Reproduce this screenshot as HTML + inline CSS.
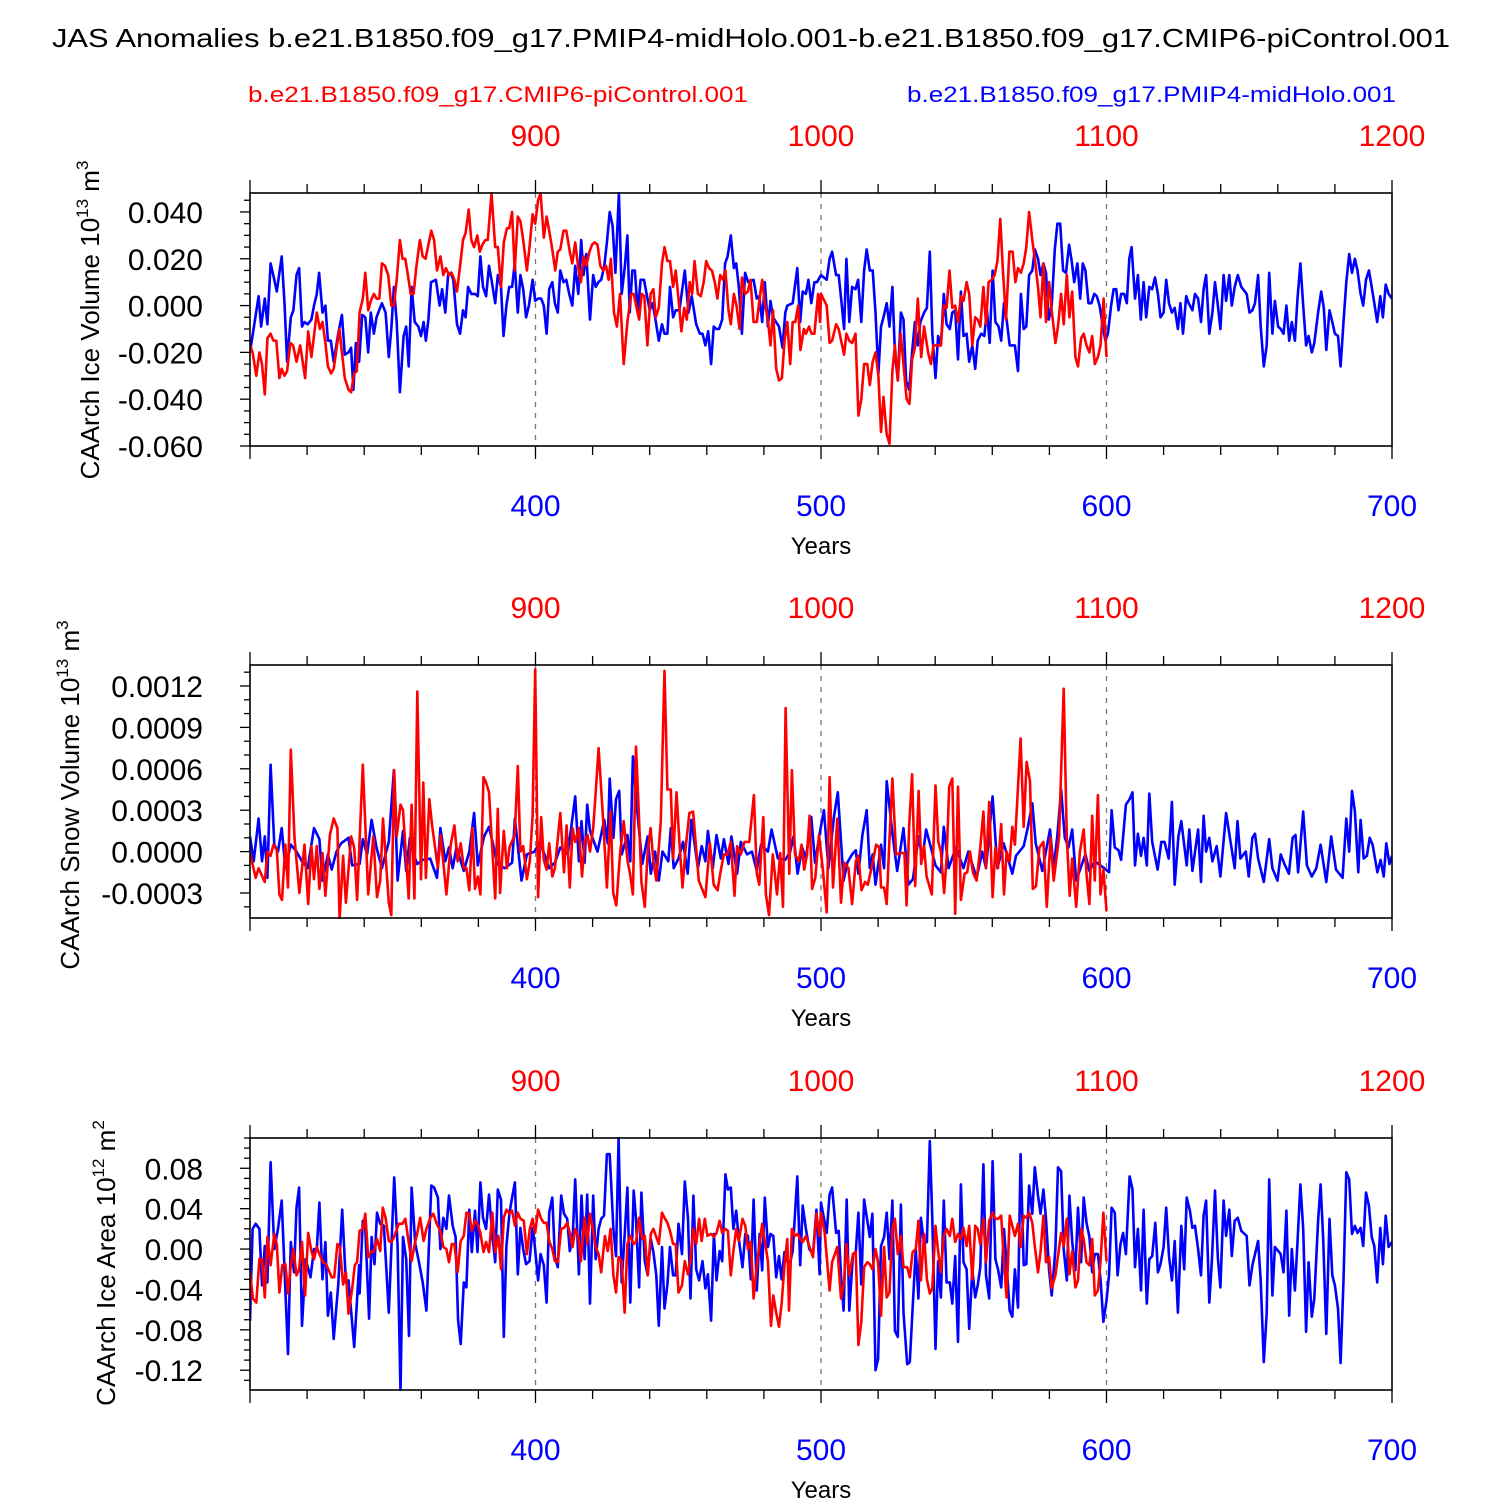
<!DOCTYPE html>
<html><head><meta charset="utf-8"><style>
body{margin:0;background:#fff}
svg text{font-family:"Liberation Sans",Arial,sans-serif}
</style></head><body>
<svg id="chart" width="1500" height="1500" viewBox="0 0 1500 1500" xmlns="http://www.w3.org/2000/svg">
<rect width="1500" height="1500" fill="#fff"/>
<text x="751" y="47" font-size="26" text-anchor="middle" textLength="1398" lengthAdjust="spacingAndGlyphs">JAS Anomalies b.e21.B1850.f09_g17.PMIP4-midHolo.001-b.e21.B1850.f09_g17.CMIP6-piControl.001</text>
<text x="248" y="102" font-size="22" fill="#ff0000" textLength="500" lengthAdjust="spacingAndGlyphs">b.e21.B1850.f09_g17.CMIP6-piControl.001</text>
<text x="907" y="102" font-size="22" fill="#0000ff" textLength="489" lengthAdjust="spacingAndGlyphs">b.e21.B1850.f09_g17.PMIP4-midHolo.001</text>
<g id="plots"></g>
</svg>
<script>
// ---- Panel 1: CAArch Ice Volume (units 1e-3 x 10^13 m^3) ----
const p1BlueYears=[300,303,303.9,305.2,306.1,307.2,308.5,309.4,310.3,311.1,312.1,313,314.3,315.2,316.3,317.2,318.2,319.1,320.2,321.5,322.4,323.4,324.2,325.4,326.4,327.3,328.3,329.3,330.9,332.2,333.2,334.5,335.4,336.2,337.1,338.2,339.3,340.4,341.4,342.3,343.4,344.3,346.2,347.5,348.6,349.5,350.4,351.4,352.5,353.8,354.7,355.6,356.6,357.7,359,359.9,360.8,361.6,362.5,363.4,365.1,366.4,367.3,368.4,369.4,370.3,371.2,372.5,373.6,374.6,375.5,376.4,377.5,378.8,379.8,380.7,381.6,382.7,383.7,384.6,385.9,386.8,387.9,388.8,389.8,390.8,391.8,392.7,393.8,394.7,395.7,396.7,397.7,399,399.9,400.9,402,402.9,403.9,404.8,405.9,406.8,407.8,408.7,409.8,410.8,411.8,412.9,413.9,415,416,416.8,417.8,419.1,420.2,421.1,422,423,424.1,425,426,427,428,429.2,430.2,431.3,432.2,433,433.9,434.8,435.8,436.8,438,438.9,440,441,441.9,443.2,444.3,445.2,446.2,447.1,448.2,449.1,450.4,452.3,453.6,454.7,456.3,457.6,458.5,459.5,460.5,461.5,462.4,463.4,464.3,465.4,466.4,467.3,468.4,469.5,470.3,471.2,472.3,473.4,474.5,476.4,477.5,478.4,479.4,480.3,481.4,482.3,483.2,485.3,486.5,487.5,488.2,490.1,491.7,492.7,493.6,494.7,495.6,496.6,497.7,498.6,500,502,503,503.9,505.3,506.2,507.2,508.1,508.9,509.9,510.9,512.1,513,514.1,515.1,516,517.1,518.1,519.1,520.1,521,521.9,523,524,525,525.9,526.9,528,528.9,529.8,530.9,531.9,532.9,533.9,534.8,536.1,537.1,538.1,539,540.1,541,542,543,544,545.1,546,547,548,549,549.9,551,551.9,553,554,554.9,556.1,557.2,558.1,559.1,560.1,561.1,562.2,563.1,564.1,565,566.1,567,567.9,569,570,571,571.9,572.9,574,574.9,576,576.9,577.9,578.8,579.8,580.8,581.9,582.8,583.8,584.8,585.8,586.9,587.8,588.7,589.8,590.8,591.7,592.6,593.7,594.7,595.7,596.6,597.6,598.7,599.6,600.5,601.6,602.5,603.4,604.2,605.1,606.2,607.1,608,608.8,610,611,612,613,613.9,615,616,617,618,618.9,620,620.9,621.9,622.9,623.9,625,625.9,626.8,627.9,628.8,630.1,631,632.1,633.1,634,634.9,636,637.1,638,638.9,639.9,641,641.9,643,643.9,644.9,646,647.2,649.1,650.1,651.1,652,653.1,654,655.1,656.1,657,658.1,659,660.1,661,662,663,664,664.9,666,666.9,667.9,668.9,669.9,670.8,671.9,672.8,674.1,675.2,676.1,677,678.1,679.1,680,681.1,682,683,684,685,686,687,687.9,689,689.9,690.9,691.9,692.9,693.8,694.8,695.9,696.8,697.8,698.8,700];
const p1BlueVals=[-20,4,-9,3,-8,18,11,6,14,21,1,-24,-5,-2,13,16,-9,-7,-8,-6,0,5,14,-3,0,-15,-15,-24,-12,-4,-21,-20,-18,-36,-16,-24,-4,-5,-20,-3,-12,-5,1,-3,-22,-10,8,-7,-37,-13,-9,-26,8,-7,-9,-13,-7,-15,-6,10,11,0,7,-3,13,14,11,-8,-12,-2,-5,8,5,5,4,21,8,4,17,11,1,13,8,-13,0,8,8,18,-3,13,7,-5,0,11,2,3,3,0,-12,7,10,1,-3,15,10,11,5,0,17,5,28,13,22,-6,13,8,10,11,17,27,40,34,14,48,5,17,30,-3,15,15,-3,11,11,5,-2,1,-5,-15,-8,-12,-12,8,-5,-2,-2,15,-3,4,-8,-12,-12,-17,-11,-25,-9,-10,-10,-6,18,21,30,16,18,8,-12,14,10,11,3,4,-7,10,-9,2,-5,-9,-18,-3,0,1,16,-7,6,5,11,1,10,10,13,11,20,23,13,13,1,-10,20,-7,8,7,11,-7,15,24,15,15,-3,-29,-9,-5,1,-9,8,-20,-32,-3,-6,-32,-36,-20,-7,-17,-7,-3,-1,23,-12,-31,-13,-17,5,-8,-10,-3,-2,-23,6,-13,-12,-24,-17,-27,-15,-12,-13,-2,-16,15,-7,-9,-15,1,-6,-17,-17,-17,-28,5,-10,-9,13,15,24,20,13,18,14,-6,0,24,35,35,15,14,26,19,10,18,3,18,15,1,1,5,4,0,-9,-15,-12,0,7,7,-2,5,5,1,20,25,3,13,-6,10,-5,8,7,12,5,-5,-3,11,1,-3,-1,-10,1,-12,4,1,-2,5,3,-7,7,13,-12,-3,10,1,-10,13,2,13,0,8,13,8,5,-3,-2,1,13,-9,-26,-17,14,-12,2,-9,-10,-12,0,-15,-7,-15,3,18,0,-17,-13,-20,-16,-3,6,-1,-19,-2,-7,-12,-13,-26,-7,10,22,14,20,15,5,0,11,15,8,1,-7,4,-5,9,5,3];
const p1RedYears=[800,800.9,802.2,803.3,804.2,805.2,806.1,807.2,808.2,809.2,810.3,811.1,812.1,813,814.1,815.1,816.3,817.6,819.3,820.4,821.5,823.4,824.5,825.4,826.4,827.3,828.4,829.3,831.3,832.2,833.2,834.5,835.4,836.5,837.4,838.4,839.5,840.4,841.4,842.3,843.4,844.3,845.3,846.2,847.3,848.4,849.5,850.4,851.4,852.5,853.4,854.4,855.3,856.3,857.3,858.2,859.5,860.5,861.5,862.5,863.5,864.5,865.5,866.7,867.7,868.6,869.7,870.6,871.6,872.5,873.6,874.6,875.5,876.6,877.5,878.5,879.6,880.5,881.4,882.4,883.3,884.6,885.9,886.8,887.9,888.9,890,890.8,891.8,892.7,893.8,894.7,895.7,897,897.9,899,899.9,900.9,901.8,902.9,903.9,904.8,905.9,906.9,907.8,908.7,909.8,910.8,912,912.9,913.9,915,915.9,916.8,917.8,918.9,919.8,920.7,921.7,922.7,923.7,924.7,925.6,926.4,927.5,928.5,929.6,930.9,932.2,933.5,934.4,935.4,936.3,937.2,938.1,939.2,940.3,941.3,942.1,943.2,944.3,945.2,946.2,947.1,948.2,949.1,950.1,951.1,952.1,953,954,954.9,955.7,956.9,957.9,958.9,959.8,960.8,961.8,962.8,963.7,964.7,965.6,966.5,967.6,968.4,969.5,970.4,971.5,972.3,973.4,974.4,975.3,976.4,977.5,978.5,979.4,980.3,981.4,982.3,983.2,984.3,985.3,986.3,987.2,988.2,989.2,990.1,991,992,992.8,994,994.7,995.8,996.7,997.7,999,999.7,1000,1002,1003,1003.9,1005.3,1006.2,1007.2,1008.1,1008.9,1009.9,1010.9,1012.1,1013.1,1014.1,1015.1,1016.2,1017.1,1018.1,1019.1,1020.1,1021,1021.9,1023,1024,1025,1025.9,1026.9,1027.9,1028.9,1030,1031,1031.9,1032.9,1033.9,1035.1,1036.1,1037.5,1038.5,1039.4,1040.5,1042,1043,1044,1045,1046,1047,1048,1049,1049.9,1051,1051.9,1053,1054,1054.9,1055.8,1056.9,1057.8,1058.7,1059.8,1060.8,1061.8,1062.8,1063.7,1064.8,1066,1067.1,1068.1,1069,1070,1071,1071.9,1072.9,1074,1074.9,1076,1076.9,1077.9,1078.8,1079.9,1080.8,1082.1,1083,1084.1,1085,1086.1,1087,1088,1089.1,1090,1091.1,1092,1093,1094,1095,1095.9,1097,1097.9,1099,1100];
const p1RedVals=[-17,-20,-30,-20,-25,-38,-14,-12,-15,-15,-31,-27,-30,-28,-16,-17,-24,-17,-31,-11,-22,-3,-10,-7,-16,-26,-29,-27,-10,-20,-31,-36,-37,-29,-28,-3,3,14,-2,2,5,3,3,18,17,13,0,0,11,28,20,20,13,5,5,16,28,21,20,26,32,28,15,21,13,16,13,14,11,6,17,28,31,41,28,25,30,23,26,28,28,48,25,25,8,27,33,33,40,15,38,36,28,15,25,39,35,45,48,29,38,32,24,15,23,24,32,32,23,18,27,16,10,21,17,23,26,27,26,17,15,17,11,20,-3,-9,5,-25,-7,5,5,-1,-6,5,4,-17,5,7,-5,-1,18,25,19,19,8,15,3,-11,-1,-6,10,5,19,5,4,10,19,16,15,10,3,13,11,15,-2,-8,5,0,-10,12,5,6,11,-7,-7,3,11,1,-6,-17,-2,-27,-32,-31,-15,-7,-25,-7,-7,0,-19,-10,-12,-9,-12,-12,5,-7,5,0,-16,-15,-8,-10,-16,-21,-12,-15,-16,-12,-47,-40,-25,-25,-34,-24,-20,-30,-54,-39,-55,-59,-28,-17,-32,-12,-25,-40,-42,-23,-18,3,-22,-9,-20,-25,-17,-17,-17,0,-1,15,-1,0,-7,4,2,10,5,-17,-5,-6,-9,8,-8,10,11,13,19,37,15,-6,23,23,10,16,14,18,25,40,28,20,8,-5,18,-7,10,-2,-16,-9,5,-8,13,-5,6,-22,-26,-14,-12,-17,-20,-13,-25,-22,-17,3,-22];

// ---- Panel 2: CAArch Snow Volume (units 1e-5 x 10^13 m^3) ----
const p2BlueYears=[300,301.3,303,304.2,305.2,306.1,307.2,308.5,309.8,311.1,312.4,314.3,316.3,318.2,320.2,322.4,324.3,325.4,327.3,328.6,330.3,331.9,334.5,335.8,338.4,339.5,341,342.6,344.3,346.2,348.6,350.4,351.7,353.6,354.7,356,357.3,358.6,360.5,363.1,365.5,366.7,368.4,369.7,371,372.3,374.9,376.8,378.5,379.8,382,383.7,385.3,386.6,389.2,391.8,392.8,395.1,397,399.6,401.6,404.8,406.8,408.7,411.3,413.9,415.2,416.1,417.2,418.1,419.1,421.7,424.1,425.3,426,427.3,428.2,429.3,430.2,432.2,433.2,434.1,435.4,437.4,439.3,440.4,441.9,443.2,444.5,446.5,447.4,448.4,450.1,451.7,453.3,454.6,456.9,458.2,459.5,460.4,462.1,463.4,464.9,466,467.6,468.6,470.6,471.9,474.1,475.8,477.5,479,481.4,482.7,484.9,487.5,489.2,490.4,491.8,493.4,494.7,496.6,497.9,499.8,501,502.6,504.6,505.9,507.9,509.2,510.9,512.2,513.1,514.5,516,517.1,518.1,519.1,521,522.1,523,525,526.7,528.9,530.6,532.2,534.2,535.5,536.8,538.5,540.1,542,543,544.7,547.3,549.9,551.6,554.5,556.5,557.8,560.1,561.8,564,567,568.3,571,572.3,574,575.2,577.5,580.2,581.5,582.8,584.1,585.4,586.7,588,589.4,592.6,594,595.9,599.2,600.9,601.8,602.9,604.2,605.1,606.8,608.1,609.1,610,611,612.1,613,614.1,615,616,617.9,619.2,620.3,621.8,622.9,623.9,625.2,626.2,628.1,629,630.1,632.1,633.1,634,634.9,636,637.1,638.6,639.9,641.9,643.6,644.9,645.9,646.9,648.8,649.8,651.1,652,653.1,655.1,657,658.1,659.9,661,662.3,663.9,665.2,666.2,667.1,668.9,670.2,671.9,673.5,675,677,678.7,680.4,682.7,684,685,686,687,688.2,689,690.1,691.2,692.2,693.2,694.9,696,697.1,698,699.1,700];
const p2BlueVals=[11,-7,24,-7,11,-19,63,5,0,17,-12,5,0,-7,-12,17,9,-21,-2,-13,0,6,10,-10,-9,9,-2,23,3,-12,7,59,-21,15,-14,10,-2,-9,-6,-5,-19,17,-7,3,-12,3,-14,0,28,-10,11,18,4,-9,-12,-8,24,-21,-2,0,7,-12,-8,3,-2,40,-7,22,-8,34,15,0,23,6,53,10,38,44,-2,12,-7,69,34,-9,11,-16,0,-21,0,-7,17,-12,-5,7,-16,23,-12,4,-7,15,-12,12,-5,9,-9,11,-16,7,-2,0,-14,5,0,16,-5,-6,0,11,-16,3,-5,25,-8,16,30,-12,26,43,-21,-8,-2,1,-16,12,30,-12,-2,-24,5,-12,51,13,-14,17,-24,-20,11,-5,16,3,-10,-15,18,-12,3,-12,0,-19,0,-12,40,-12,6,-16,-3,4,16,35,6,-14,16,-12,12,45,10,3,16,-21,-2,-14,-7,-12,-15,30,3,1,-6,34,38,43,-10,13,-3,10,-10,42,7,-13,7,7,-5,36,-24,11,22,-10,16,-14,16,-22,26,0,10,-7,4,-18,28,5,-12,22,-5,0,-18,10,13,-5,-22,9,-12,-21,-2,-9,-16,10,12,-15,29,-10,-18,-12,5,-22,11,-13,-19,24,0,44,29,-15,23,-5,-3,10,5,-15,-6,-18,6,-9,-3];
const p2RedYears=[800,802,803,805.2,806.1,807.2,808.2,809.4,810.3,811.2,812.4,813.3,814.3,815.6,817.3,819.1,820.4,821.5,822.4,823.4,824.3,825.4,826.4,828,829.3,830.6,831.4,832.6,833.6,835.4,836.5,837.5,839.5,841.4,843.2,844.5,845.6,846.6,848.6,849.5,850.5,851.4,852.7,853.6,855.6,856.6,857.6,858.6,859.9,860.7,861.6,862.8,863.8,865.8,866.8,868.8,870.3,871.6,872.7,873.8,874.9,875.8,876.8,877.9,878.8,879.8,880.7,881.8,882.7,883.7,885.9,886.8,887.6,888.9,890,890.9,892.7,893.8,894.7,895.7,897,898,899,899.9,900.9,902,902.9,903.9,904.8,905.9,906.8,908.7,910,910.9,912,913,913.9,915.2,916.3,917.2,918.2,919.1,920.2,921.1,922.1,923.7,925,926.3,927.2,928.3,929.6,930.9,932.2,933.1,934.1,935.2,936.1,937.1,938.3,939.3,940.3,941.3,942.3,943.9,945.2,946.2,947.4,948.2,949.4,950.4,951.5,952.6,953.9,955.2,957.2,959.5,961.1,962.4,963.8,964.7,966,967.3,968.4,969.7,970.6,971.9,973.2,974.9,976.5,977.5,978.4,979.8,980.7,981.8,983.1,984.6,985.7,986.7,987.6,988.9,989.8,990.9,992.2,993.2,994.1,995.1,996,996.9,998,999.3,1000.7,1002,1003,1004.2,1005.7,1007,1008.1,1009.6,1010.9,1012.2,1013.1,1014.2,1015.4,1016.4,1017.7,1019.3,1020.4,1021,1022.1,1023,1023.9,1025,1026.3,1028.3,1029.2,1030,1030.9,1031.9,1033,1034.2,1035.1,1036.1,1037,1038.8,1040.1,1041.1,1042,1043.1,1044,1044.9,1046,1047,1048,1049,1050.3,1051.2,1052.2,1053.2,1054.5,1055.8,1056.9,1057.8,1058.9,1060.1,1061.1,1062,1063.1,1064.1,1065,1066.1,1067,1067.9,1069.9,1071,1072,1073.2,1074.2,1075.3,1076.5,1077.9,1079.1,1080.4,1081.5,1083.4,1085,1086.1,1087.1,1088,1089.4,1090.7,1092,1093,1094,1095,1095.9,1097,1097.9,1098.9,1100];
const p2RedVals=[-1,-19,-12,-22,0,-3,5,1,-31,-35,5,-26,74,10,-30,5,-38,4,-20,4,-27,-1,-32,12,24,17,-49,-3,-37,11,3,-35,63,-31,11,-33,-21,24,-37,-46,59,11,34,30,-34,34,-34,116,-20,50,-19,38,19,-12,12,-31,5,19,-7,6,-12,-12,-28,17,-27,-18,-31,54,50,43,-34,31,-30,15,-12,3,12,62,0,4,-20,-7,26,132,-33,25,-6,-13,6,-18,-12,28,-15,19,-26,17,7,17,-18,7,12,0,17,43,75,22,-26,29,-30,-39,-2,22,-6,-16,-31,76,32,-22,-40,0,17,-7,-21,22,131,45,45,-5,43,7,-26,3,28,29,-21,-33,6,-24,-28,-16,-2,-2,7,-32,4,-2,7,7,41,-16,-24,25,-31,-46,-2,-31,-1,-40,104,-16,59,-2,-7,5,-13,-2,26,-27,-19,12,-14,-44,54,-26,24,-37,-8,-12,-38,-7,-3,-28,-22,-24,-12,5,3,-26,-26,-38,5,53,-2,-1,-1,-39,19,56,-25,44,-9,4,-18,-31,48,7,0,-30,-5,47,53,-45,47,-35,-16,-15,0,-15,-21,3,29,-12,36,-33,3,-12,20,-31,0,-7,18,5,82,18,65,51,-27,-25,3,7,-40,10,-21,11,118,10,-32,-5,-40,0,16,-16,-38,26,-21,41,-31,-13,-43];

// ---- Panel 3: CAArch Ice Area (units 1e-2 x 10^12 m^2) ----
const p3BlueYears=[300,300.9,302,303.3,304.2,305.2,306.1,307.2,308.5,309.8,311.1,313.3,314.3,315.4,316.3,317.2,318.2,319.5,321.2,322.4,323.4,324.3,325.4,326.4,327.3,328.3,329.3,330.9,332.3,333.6,334.5,336.5,338.2,338.4,339.5,340.4,341.7,342.6,343.6,344.5,345.6,346.9,348.6,350.5,351.7,352.7,353.6,354.7,355.7,356.6,357.9,359.2,360.5,361.8,363.5,364.5,365.8,366.7,367.7,368.8,369.7,371,372,372.9,373.8,374.9,375.8,376.8,377.7,378.8,379.7,380.7,381.6,382.7,383.7,384.9,385.9,386.8,387.9,388.9,389.8,390.9,391.8,392.8,393.8,394.7,395.7,396.7,397.9,399,399.6,400.9,401.8,402.9,403.9,404.8,405.9,406.8,407.8,409,410,411.1,412,413,413.9,415.2,416.1,417.2,418.1,419.1,420.2,421.1,422.1,423,424,425,426,427.3,428.2,429.1,430.2,431.2,432.2,433.2,434.4,435.2,436.3,437.1,438.3,439.3,440.4,441.3,442.3,443.2,444.3,445.2,446.2,447.1,448.2,449.1,450.1,451.3,452.3,453.4,454.3,455.3,456.3,457.3,458.5,459.5,460.4,461.5,462.5,463.4,464.5,465.4,466.5,467.4,468.4,469.3,470.3,471.2,472.5,473.5,474.4,475.4,476.4,477.5,478.5,479.4,480.3,481.4,482.3,483.3,484.3,485.3,486.2,487.2,488.2,489.2,490.1,491.7,492.7,493.6,494.7,495.9,497.2,498.4,499.5,500,502,503,503.9,505.3,506.2,507,507.9,509,509.9,511.2,512.2,513.1,514.1,515.1,517.1,518,519.1,520,521,522.1,523,524,525,525.9,526.9,528,528.9,530.2,531.1,532.1,533.2,534.1,535,536.1,537.1,538.1,539,540.1,541,542,543,544,545.1,546,547,548,549,549.9,551,551.9,553,554,554.9,555.8,556.9,557.8,558.9,560.1,561.1,562,563.1,564.1,565,566.1,567,567.9,569,569.9,571,571.9,572.9,574,574.9,576,576.9,577.9,578.8,579.9,580.8,582.1,583,584.1,585,586.1,587,588,589.1,590,591.1,592,593,594,595,595.9,597,597.9,598.9,600,600.9,601.8,602.9,603.9,604.9,605.8,606.8,608.1,609.1,610,611,612.1,613,614.1,615,616,617.1,618,618.9,620,620.9,621.9,622.9,623.9,625,626.2,627.2,628.1,629.2,630.1,631,632.1,633.1,634,634.9,636,636.9,638,639,639.9,641,641.9,643,643.9,644.9,646,647.2,649.1,650.1,651.1,653.1,654,655.1,656.1,657,658.1,659,661,662,663,664,664.9,666,666.9,667.9,668.9,669.9,670.8,671.9,672.8,674.1,675,675.9,677,678.1,679.1,680,681.1,682,683,684,685,686,687,687.9,689,689.9,690.9,691.9,692.9,693.8,694.8,695.9,696.8,697.8,698.8,700];
const p3BlueVals=[-7.1,2,2.5,2,-3.6,0.3,-3.3,8.6,0,2,4.8,-10.4,0.7,-2.3,4.1,6.1,-7.6,-1,-2.8,0,0,4.6,-3,0.7,-6.6,-4.3,-8.9,-3.6,3.9,-3.3,-3.1,-9.7,-1.6,-4.4,2.8,2,-6.9,1.2,-1.5,3.6,2.5,2.3,-6.3,7.1,0.3,-14.1,1.2,-1,-8.6,6.1,0.5,-1.3,-3.3,-6.1,6.3,6.1,5.1,0,3.1,2,5.3,2.3,1.2,-7.1,-9.4,-3.3,-3.8,3.9,-0.3,3.8,-0.3,6.6,3.1,2,5.4,1.3,-1.3,5.9,4.9,-8.7,0.3,3.6,5.1,6.6,-2.5,2.1,0,-1.5,-1.2,2.1,0.7,-3.1,-0.5,-1.6,-5.3,3.6,5.1,-0.8,-1.8,5.3,3.5,3,-0.2,1,6.9,-2.5,5.3,-1,5.4,-5.4,5.3,-1,2,3,3.3,9.4,9.4,2,-0.7,11,-3.3,1.3,6.1,-5.3,5.8,3,-3.8,5.6,-1.2,-2.6,1,-0.3,-2.6,-7.6,0.2,-5.9,-3.5,0.2,-2.6,-2.6,2.5,-0.5,6.7,3,-4.9,5.3,-2,-3.1,-1.2,-3.9,-2.5,-7.1,1.5,-3.1,-0.2,-1.2,7.4,5.9,6.1,2,3.8,1,-1.8,1.5,1.3,-3,4.9,-4.1,1.5,-2.1,5.1,0.2,1.5,1.3,-2.8,-0.7,-3,-0.3,-1.2,-1.3,-0.2,7.2,-1.6,4.3,2,0,-0.5,3.9,-2.5,4.6,1.6,5.4,6.1,1.6,1.8,-2.6,-6.1,4.9,-6.1,-0.5,-0.3,3.6,-3.5,4.9,1.2,3.5,-12,-10.9,0.3,1.2,3.6,-1,4.8,-8.1,-8.7,4.4,-6.3,-11.4,-11.2,-5.9,0,-4.9,3.1,0.5,0.7,10.7,3,-9.9,-1.2,-4.8,4.8,-3.3,-3.3,-5.4,-0.7,-9.2,6.4,-1.3,-2,-7.9,-2,-4.8,-3.6,-1.8,8.4,-2.6,-4.9,8.7,-1,-2,-3.8,2,-1.5,-6.1,-6.7,-2,-5.8,9.4,-1.6,-1.5,6.3,3.5,8.1,5.3,3.5,5.9,3,-2.1,-4.6,0,8.1,7.7,0,-3.1,5.3,0.7,-2.1,4.1,-1.3,5.1,2.6,1.2,-2.3,-0.5,-0.5,-3,-7.2,-5.1,-2.5,4.1,3.6,-2.6,0.5,1.6,-0.5,7.2,5.9,-1.8,2,-4.1,3.9,-5.4,-1,-0.7,2.6,-2.3,-1.5,0.2,4.1,-0.7,-3.1,0.8,-6.3,2.3,-2,5.1,3.8,2.1,2.3,0,-2.6,3.3,4.8,-5.3,-1.3,5.8,-0.8,-3.8,4.8,1.3,3.9,-0.7,2.8,3.1,1.8,1.3,-3.6,-1.6,0.8,-3.1,-11.2,-6.3,6.9,-4.6,0.2,-0.5,-2.3,3.8,-6.6,0,-4.1,0.7,6.4,2,-8.2,-1.3,-6.7,-4.9,2.8,6.4,1,-8.4,3,-2.6,-3.6,-5.9,-11.3,-3.1,7.6,6.9,1.5,2.3,1.6,2.1,0.3,5.6,4.3,1.2,0.3,-3.3,2.1,-1.5,3.3,0.2,0.7];
const p3RedYears=[800,801,802.2,803.3,804.2,805.2,806.1,807.2,808.5,809.4,810.3,811.3,812.4,813.3,814.3,815.2,816.3,817.2,818.2,819.3,820.4,821.5,822.4,823.4,824.3,825.6,826.7,828.6,829.5,830.6,831.5,832.6,833.6,834.5,835.8,836.7,837.5,838.4,839.5,840.4,841.4,842.3,843.4,844.5,845.6,846.5,847.5,848.6,849.5,850.5,852.1,853.4,854.4,855.3,856.6,857.7,858.6,859.6,860.8,861.8,863.2,864.2,865.4,866.7,867.7,868.8,869.7,870.7,871.6,872.7,873.8,874.9,875.8,876.8,877.7,878.8,879.7,880.7,881.8,882.7,883.7,884.9,885.9,887,887.9,888.9,889.8,890.9,891.8,892.8,893.8,894.7,895.9,897,898,899,899.9,900.9,902,902.9,903.9,904.8,905.9,906.8,907.8,909,910,911.1,912,913,913.9,915,915.9,917.2,918.1,919.1,920.2,921.1,922.1,923,924.3,925.3,926.3,927.3,928.2,929.1,930.2,931.2,932.2,933.2,934.4,935.2,936.3,937.4,938.3,939.3,940.4,941.3,942.3,943.2,944.3,945.2,946.2,947.1,948.2,949.1,950.1,951.3,952.3,953.4,954.3,955.3,956.3,957.3,958.2,959.3,960.2,961.5,962.5,963.4,964.5,965.4,966.5,967.4,968.4,969.3,970.3,971.2,972.5,973.5,974.4,975.4,976.4,977.5,978.5,979.4,980.3,981.4,982.5,983.3,984.3,985.3,986.2,987.2,988.2,988.8,989.8,990.9,991.8,992.7,993.6,994.7,995.9,997.2,998.4,999.5,1000,1001.3,1003,1003.9,1005.7,1007,1008.1,1008.9,1009.9,1011.2,1012.2,1013.1,1014.1,1015.1,1016.2,1017.1,1018,1019.1,1020,1021,1022.1,1023,1024,1025,1025.9,1026.9,1028,1028.9,1030.2,1031.1,1032.1,1033.2,1034.1,1035,1036.1,1037.1,1038.1,1039,1040.1,1041,1042,1043,1044,1045.1,1046,1047,1048,1049,1049.9,1051,1051.9,1053,1054,1054.9,1055.8,1056.9,1057.8,1058.9,1060.1,1061.1,1062,1063.1,1064.1,1065,1066.1,1067,1067.9,1069,1069.9,1071,1071.9,1072.9,1074,1074.9,1076,1076.9,1077.9,1078.8,1079.9,1080.8,1082.1,1083,1084.1,1085,1086.1,1087,1088,1089.1,1090,1091.1,1092,1093,1094,1095,1095.9,1097,1097.9,1098.9,1100];
const p3RedVals=[-2.3,-4.9,-5.3,-1,-1,-4.8,1.2,-1.6,1.5,0.5,-4.3,-1.6,-1.5,-4.4,-1.6,0,-2.6,-2,0.7,-4.6,1.6,-0.2,-1,0.2,-0.5,-1.3,-1.5,-2.8,-2.8,0.5,0.2,-3.5,-2.3,-6.4,-3.9,-1.6,-1.3,1.8,2,3.5,-0.8,-0.3,-0.2,1,-0.2,4.1,3.1,0.8,0.7,1.2,2.5,2.5,3,1.2,-1.2,0.5,1.6,3.1,0.8,2,3.1,3.5,2.5,1.8,0.2,0,-1.3,0.5,0.5,-2.3,0.8,1.3,3.6,3.5,1.8,2.8,2.5,1.6,-0.3,0.7,-0.3,3.6,-0.3,1.3,-2,3.1,3.9,3.5,3.8,2.3,3.6,3,2.8,-0.5,2,3,1.6,3.9,3,2.6,2.6,0.8,0,-1.2,-1.3,2,2.1,2.6,1.6,0.2,2,1.2,-1.2,3.1,0.5,3.5,1.8,0.2,-0.5,-2.3,1.3,-0.2,2,-2.6,-4.3,-0.8,-1.2,-6.3,0.5,1.3,0.5,0.7,3.1,1,1.3,-2.6,1.5,2,1.2,0.5,3.6,3.1,2.6,1.8,0.5,0.5,-4.3,-3.6,-1.2,-2.5,-1,2,0.5,3,0.8,3,1.3,1.5,1.2,1.6,2.8,1.6,2,1.8,-2.6,-0.2,2,0.8,3,2.3,0,0.7,-4.9,-1.6,0.5,2.5,0.8,-1.2,-7.6,-4.6,-6.3,-7.7,-5.4,-1.6,1,-6.1,2,1.3,1.5,1,0.7,1.3,0.3,-0.8,3.5,1.3,3.6,1.6,-4.1,-1.3,0.2,-4.9,-3.3,0.5,-2.6,-0.5,-0.3,-9.5,-7.2,-1.8,-1.3,-1.5,-2,0,-1.3,-6.6,0.2,-4.8,-4.3,2,3,-0.5,1.3,-1.8,-1.8,-2.8,-0.3,0,2.8,-3.1,1.5,-3,-4.4,-3.9,2.3,-0.2,-2.3,1.3,2,1.3,3,0.7,1.5,1,2.1,0.3,2.3,-3,2.3,2,0.5,3,-1.3,2.8,3.6,3,3,3.3,-1.3,-4.8,3.3,2.3,1.3,2.5,0.2,3.3,3.1,3.6,2.6,0.3,-2.3,-0.3,3.3,-1.3,-0.8,-3.9,-2.6,-0.7,1.6,0.3,3,-2.5,-0.2,-3.8,-3.1,2,1,-1.3,-1.6,1,-4.6,-4.1,-1.3,3.6,-1.2];

// ---- axis tick definitions ----
const p1Ticks=[-60,-40,-20,0,20,40];
const p1TickLabels=["-0.060","-0.040","-0.020","0.000","0.020","0.040"];
const p2Ticks=[-30,0,30,60,90,120];
const p2TickLabels=["-0.0003","0.0000","0.0003","0.0006","0.0009","0.0012"];
const p3Ticks=[-12,-8,-4,0,4,8];
const p3TickLabels=["-0.12","-0.08","-0.04","0.00","0.04","0.08"];
const bottomTicks=[400,500,600,700];
const topTicks=[900,1000,1100,1200];

const NS="http://www.w3.org/2000/svg";
const root=document.getElementById('plots');
const X0=250,X1=1392;
function xBottom(y){return X0+(y-300)*(X1-X0)/400;}
function xTop(y){return X0+(y-800)*(X1-X0)/400;}
function mk(tag,attrs,parent){const e=document.createElementNS(NS,tag);for(const k in attrs)e.setAttribute(k,attrs[k]);(parent||root).appendChild(e);return e;}

const panels=[
 {key:'ice-volume',top:193,bot:446,vmin:-60.0,vmax:48.1,minor:5,ticks:p1Ticks,labels:p1TickLabels,blueY:p1BlueYears,blueV:p1BlueVals,redY:p1RedYears,redV:p1RedVals,title:['CAArch Ice Volume 10','13',' m','3'],tx:99,ty:320},
 {key:'snow-volume',top:665,bot:918,vmin:-48.1,vmax:135.2,minor:10,ticks:p2Ticks,labels:p2TickLabels,blueY:p2BlueYears,blueV:p2BlueVals,redY:p2RedYears,redV:p2RedVals,title:['CAArch Snow Volume 10','13',' m','3'],tx:79,ty:795},
 {key:'ice-area',top:1138,bot:1390,vmin:-13.96,vmax:11.0,minor:1,ticks:p3Ticks,labels:p3TickLabels,blueY:p3BlueYears,blueV:p3BlueVals,redY:p3RedYears,redV:p3RedVals,title:['CAArch Ice Area 10','12',' m','2'],tx:115,ty:1263}
];

panels.forEach(p=>{
 const g=mk('g',{});
 
 
 const yS=v=>p.bot-(v-p.vmin)*(p.bot-p.top)/(p.vmax-p.vmin);
 [400,500,600].forEach(yr=>{
  const l=mk('line',{x1:xBottom(yr),x2:xBottom(yr),y1:p.top,y2:p.bot,stroke:'#777','stroke-width':1.3,'stroke-dasharray':'5,6'},g);
  
  
 });
 const clip=mk('clipPath',{id:'clip-'+p.key},g);
 mk('rect',{x:X0,y:p.top-1,width:X1-X0,height:p.bot-p.top+2},clip);
 const sg=mk('g',{'clip-path':'url(#clip-'+p.key+')'},g);
 const mkPath2=(ys,vs,xf,color,name)=>{
  let d='';
  for(let i=0;i<ys.length;i++){d+=(i?'L':'M')+xf(ys[i]).toFixed(1)+','+yS(vs[i]).toFixed(1);}
  const pa=mk('path',{d:d,fill:'none',stroke:color,'stroke-width':2.6,'stroke-linejoin':'round'},sg);
  
  
 };
 mkPath2(p.blueY,p.blueV,xBottom,'#0000ff','midholo-series');
 mkPath2(p.redY,p.redV,xTop,'#ff0000','picontrol-series');
 const fr=mk('rect',{x:X0,y:p.top,width:X1-X0,height:p.bot-p.top,fill:'none',stroke:'#000','stroke-width':1.6},g);
 
 
 for(let yr=300;yr<=700;yr+=20){
  const x=xBottom(yr);const len=(yr%100===0)?13:9;
  mk('line',{x1:x,x2:x,y1:p.bot,y2:p.bot+len,stroke:'#000','stroke-width':1.3},g);
  mk('line',{x1:x,x2:x,y1:p.top,y2:p.top-len,stroke:'#000','stroke-width':1.3},g);
 }
 for(let v=Math.ceil(p.vmin/p.minor)*p.minor;v<=p.vmax;v+=p.minor){
  const y=yS(v);const major=p.ticks.some(t=>Math.abs(t-v)<1e-6);
  mk('line',{x1:X0,x2:X0-(major?10:6),y1:y,y2:y,stroke:'#000','stroke-width':1.3},g);
 }
 p.ticks.forEach((t,i)=>{
  const tl=mk('text',{x:203,y:yS(t)+11,'font-size':30,'text-anchor':'end'},g);
  tl.textContent=p.labels[i];
  
  
 });
 bottomTicks.forEach(t=>{
  const tl=mk('text',{x:xBottom(t),y:p.bot+70,'font-size':30,'text-anchor':'middle',fill:'#0000ff'},g);
  tl.textContent=String(t);
  
  
 });
 topTicks.forEach(t=>{
  const tl=mk('text',{x:xTop(t),y:p.top-47,'font-size':30,'text-anchor':'middle',fill:'#ff0000'},g);
  tl.textContent=String(t);
  
  
 });
 const xt=mk('text',{x:821,y:p.bot+108,'font-size':24,'text-anchor':'middle'},g);
 xt.textContent='Years';
 
 
 const yt=mk('text',{x:0,y:0,'font-size':26,'text-anchor':'middle',transform:'translate('+p.tx+','+p.ty+') rotate(-90)'},g);
 
 
 const t1=mk('tspan',{},yt);t1.textContent=p.title[0];
 const t2=mk('tspan',{'font-size':17,dy:-11},yt);t2.textContent=p.title[1];
 const t3=mk('tspan',{dy:11},yt);t3.textContent=p.title[2];
 const t4=mk('tspan',{'font-size':17,dy:-11},yt);t4.textContent=p.title[3];
});
</script>
</body></html>
